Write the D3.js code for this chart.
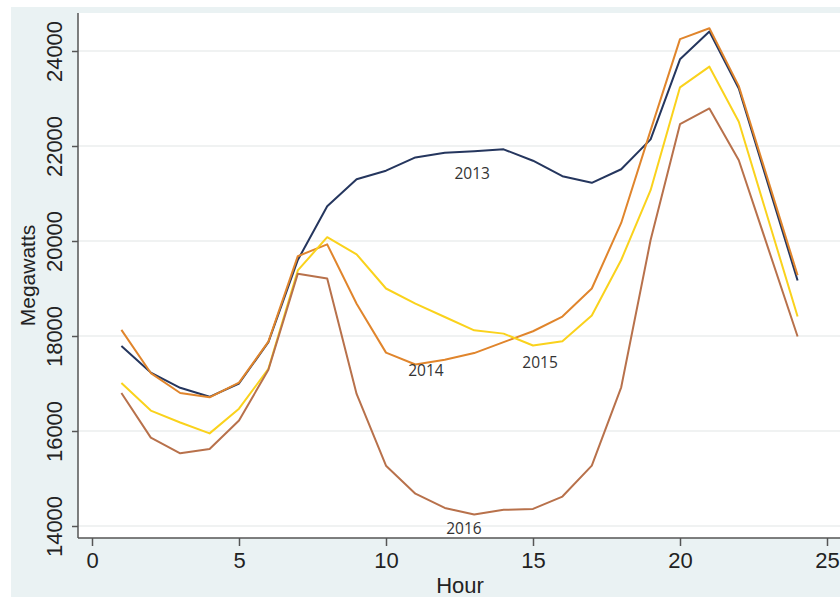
<!DOCTYPE html>
<html>
<head>
<meta charset="utf-8">
<script src="https://cdn.jsdelivr.net/npm/d3@7"></script>
<style>
  html, body { margin: 0; padding: 0; background: #fff; }
  svg { display: block; }
</style>
</head>
<body>
<svg id="chart" width="840" height="597"></svg>
<script>
const hours = [1, 2, 3, 4, 5, 6, 7, 8, 9, 10, 11, 12, 13, 14, 15, 16, 17, 18, 19, 20, 21, 22, 24]

const mw2013 = [17790, 17230, 16910, 16720, 17000, 17870, 19600, 20730, 21300, 21480, 21760, 21860, 21890, 21930, 21690, 21365, 21225, 21510, 22140, 23825, 24410, 23210, 19170]
const mw2014 = [18130, 17220, 16800, 16710, 17020, 17880, 19680, 19930, 18680, 17650, 17400, 17500, 17640, 17870, 18100, 18410, 19000, 20380, 22330, 24250, 24480, 23260, 19280]
const mw2015 = [17010, 16430, 16180, 15950, 16470, 17310, 19380, 20080, 19720, 19000, 18680, 18400, 18120, 18050, 17800, 17890, 18430, 19600, 21070, 23235, 23670, 22510, 18410]
const mw2016 = [16800, 15860, 15530, 15620, 16220, 17290, 19310, 19210, 16780, 15270, 14680, 14380, 14240, 14340, 14360, 14620, 15270, 16920, 20020, 22460, 22790, 21700, 17990]

const years = ["2013", "2014", "2015", "2016"]
const colors = ["#25365e", "#e0852c", "#fad21c", "#b8714b"]
// where the year labels sit, in data units
const labelHour = [12.93, 11.36, 15.24, 12.65]
const labelMW = [21430, 17275, 17445, 13965]

const xTicks = [0, 5, 10, 15, 20, 25]
const yTicks = [14000, 16000, 18000, 20000, 22000, 24000]

let series = [mw2013, mw2014, mw2015, mw2016].map((vals, i) => ({
  year: years[i],
  color: colors[i],
  points: hours.map((h, j) => ({ h: h, v: vals[j] }))
}))

let svg = d3.select("#chart")
let plot = { left: 78, top: 13, right: 842, bottom: 538 }

let x = d3.scaleLinear().domain([0, 25]).range([92, 827])
let y = d3.scaleLinear().domain([14000, 24000]).range([526, 51])

// outer graph region
svg.append("rect")
  .attr("x", 11).attr("y", 7)
  .attr("width", 840).attr("height", 600)
  .attr("fill", "#eaf2f3")

svg.append("rect")
  .attr("x", plot.left).attr("y", plot.top)
  .attr("width", plot.right - plot.left).attr("height", plot.bottom - plot.top)
  .attr("fill", "#ffffff")

svg.append("g")
  .selectAll("line")
  .data(yTicks)
  .join("line")
  .attr("x1", plot.left).attr("x2", plot.right)
  .attr("y1", d => y(d)).attr("y2", d => y(d))
  .attr("stroke", "#ebeeee")
  .attr("stroke-width", 1.5)

let line = d3.line()
  .x(d => x(d.h))
  .y(d => y(d.v))

svg.append("g")
  .selectAll("path")
  .data(series)
  .join("path")
  .attr("d", d => line(d.points))
  .attr("fill", "none")
  .attr("stroke", d => d.color)
  .attr("stroke-width", 2)
  .attr("stroke-linejoin", "round")

svg.append("g")
  .selectAll("text")
  .data(years)
  .join("text")
  .attr("x", (d, i) => x(labelHour[i]))
  .attr("y", (d, i) => y(labelMW[i]))
  .attr("text-anchor", "middle")
  .attr("dominant-baseline", "central")
  .style("font-family", "'Open Sans', sans-serif")
  .style("font-size", "15.5px")
  .style("fill", "#333")
  .text(d => d)

// axes
let xAxis = d3.axisBottom(x).tickValues(xTicks).tickSize(8).tickPadding(6).tickFormat(d3.format("d"))
let yAxis = d3.axisLeft(y).tickValues(yTicks).tickSize(6).tickFormat(d3.format("d"))

let gx = svg.append("g")
  .attr("transform", `translate(0,${plot.bottom})`)
  .call(xAxis)
gx.select(".domain").attr("d", `M${plot.left},0H${plot.right}`)

let gy = svg.append("g")
  .attr("transform", `translate(${plot.left},0)`)
  .call(yAxis)
gy.select(".domain").attr("d", `M0,${plot.top}V${plot.bottom}`)

gy.selectAll(".tick text")
  .attr("x", null).attr("dy", null)
  .attr("text-anchor", "middle")
  .attr("transform", "translate(-24,0) rotate(-90)")
  .attr("dominant-baseline", "central")

svg.selectAll(".domain, .tick line")
  .attr("stroke", "#555")
  .attr("stroke-width", 1.5)

svg.selectAll(".tick text")
  .style("font-family", "'Liberation Sans', Arial, sans-serif")
  .style("font-size", "22px")
  .style("fill", "#222")

svg.append("text")
  .attr("x", (plot.left + plot.right) / 2)
  .attr("y", 593)
  .attr("text-anchor", "middle")
  .style("font-family", "'Liberation Sans', Arial, sans-serif")
  .style("font-size", "22px")
  .style("fill", "#222")
  .text("Hour")

svg.append("text")
  .attr("transform", `translate(27,${(plot.top + plot.bottom) / 2}) rotate(-90)`)
  .attr("text-anchor", "middle")
  .attr("dominant-baseline", "central")
  .style("font-family", "'Liberation Sans', Arial, sans-serif")
  .style("font-size", "21px")
  .style("fill", "#222")
  .text("Megawatts")
</script>
</body>
</html>
